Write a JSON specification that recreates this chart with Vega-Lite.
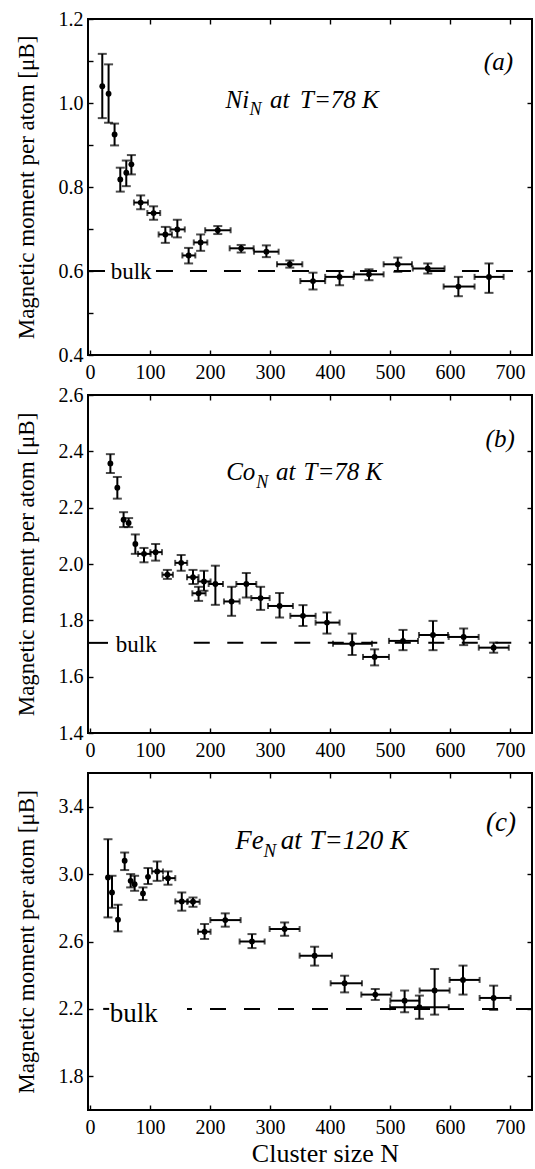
{
  "$schema": "https://vega.github.io/schema/vega-lite/v6.json",
  "background": "white",
  "padding": {"left": 14, "top": 8, "right": 4, "bottom": 2},
  "bounds": "flush",
  "spacing": 40,
  "config": {
    "font": "Liberation Serif, Times New Roman, serif",
    "text": {"font": "Liberation Serif, Times New Roman, serif"},
    "view": {"stroke": "black", "strokeWidth": 2},
    "axis": {
      "labelFont": "Liberation Serif, Times New Roman, serif", "labelFontSize": 20, "labelColor": "black",
      "titleFont": "Liberation Serif, Times New Roman, serif", "titleFontSize": 23, "titleFontWeight": "normal", "titleColor": "black",
      "domain": false, "grid": false, "tickColor": "black", "tickWidth": 1.4, "tickSize": -5,
      "labelFlush": false, "labelOverlap": false
    }
  },
  "datasets": {
    "ni": [
      {"N": 20.5, "m": 1.040, "lo": 0.964, "hi": 1.117, "nlo": null, "nhi": null},
      {"N": 31, "m": 1.022, "lo": 0.953, "hi": 1.092, "nlo": null, "nhi": null},
      {"N": 41, "m": 0.925, "lo": 0.899, "hi": 0.951, "nlo": null, "nhi": null},
      {"N": 50.5, "m": 0.818, "lo": 0.789, "hi": 0.846, "nlo": null, "nhi": null},
      {"N": 60.5, "m": 0.834, "lo": 0.802, "hi": 0.863, "nlo": null, "nhi": null},
      {"N": 69, "m": 0.854, "lo": 0.830, "hi": 0.876, "nlo": null, "nhi": null},
      {"N": 84.5, "m": 0.763, "lo": 0.747, "hi": 0.780, "nlo": 73.3, "nhi": 96.7},
      {"N": 106, "m": 0.738, "lo": 0.722, "hi": 0.754, "nlo": 95.6, "nhi": 117},
      {"N": 125.6, "m": 0.687, "lo": 0.667, "hi": 0.705, "nlo": 114.4, "nhi": 136.7},
      {"N": 145.6, "m": 0.699, "lo": 0.680, "hi": 0.722, "nlo": 134, "nhi": 158},
      {"N": 164.4, "m": 0.637, "lo": 0.618, "hi": 0.655, "nlo": 154, "nhi": 175.6},
      {"N": 184.4, "m": 0.668, "lo": 0.648, "hi": 0.687, "nlo": 173, "nhi": 195.6},
      {"N": 213, "m": 0.697, "lo": 0.688, "hi": 0.707, "nlo": 192, "nhi": 234.4},
      {"N": 252, "m": 0.654, "lo": 0.644, "hi": 0.662, "nlo": 232.8, "nhi": 272.8},
      {"N": 294, "m": 0.646, "lo": 0.633, "hi": 0.661, "nlo": 273.3, "nhi": 314.4},
      {"N": 333, "m": 0.616, "lo": 0.608, "hi": 0.625, "nlo": 311.7, "nhi": 353.9},
      {"N": 371.7, "m": 0.576, "lo": 0.556, "hi": 0.596, "nlo": 350.6, "nhi": 392},
      {"N": 416, "m": 0.586, "lo": 0.566, "hi": 0.600, "nlo": 392, "nhi": 439.4},
      {"N": 465, "m": 0.592, "lo": 0.578, "hi": 0.604, "nlo": 440, "nhi": 489.4},
      {"N": 513, "m": 0.616, "lo": 0.598, "hi": 0.632, "nlo": 489.4, "nhi": 536.7},
      {"N": 563, "m": 0.606, "lo": 0.594, "hi": 0.618, "nlo": 538, "nhi": 591},
      {"N": 614, "m": 0.563, "lo": 0.540, "hi": 0.586, "nlo": 589.4, "nhi": 641},
      {"N": 665, "m": 0.586, "lo": 0.548, "hi": 0.618, "nlo": 641, "nhi": 689.4}
    ],
    "co": [
      {"N": 34, "m": 2.357, "lo": 2.323, "hi": 2.390, "nlo": null, "nhi": null},
      {"N": 45.6, "m": 2.271, "lo": 2.232, "hi": 2.309, "nlo": null, "nhi": null},
      {"N": 56, "m": 2.157, "lo": 2.131, "hi": 2.184, "nlo": null, "nhi": null},
      {"N": 64.4, "m": 2.146, "lo": 2.131, "hi": 2.163, "nlo": null, "nhi": null},
      {"N": 75.6, "m": 2.071, "lo": 2.036, "hi": 2.105, "nlo": null, "nhi": null},
      {"N": 90, "m": 2.036, "lo": 2.006, "hi": 2.057, "nlo": 80, "nhi": 101},
      {"N": 109.4, "m": 2.042, "lo": 2.012, "hi": 2.071, "nlo": 100.6, "nhi": 120},
      {"N": 129, "m": 1.962, "lo": 1.947, "hi": 1.979, "nlo": 120.6, "nhi": 138.3},
      {"N": 152, "m": 2.004, "lo": 1.976, "hi": 2.032, "nlo": 142, "nhi": 162},
      {"N": 171.7, "m": 1.953, "lo": 1.929, "hi": 1.979, "nlo": 161.7, "nhi": 181},
      {"N": 181, "m": 1.896, "lo": 1.869, "hi": 1.919, "nlo": 170.6, "nhi": 192.8},
      {"N": 190, "m": 1.938, "lo": 1.905, "hi": 1.976, "nlo": 180, "nhi": 201},
      {"N": 209, "m": 1.929, "lo": 1.855, "hi": 1.994, "nlo": 197.8, "nhi": 221.7},
      {"N": 236, "m": 1.867, "lo": 1.816, "hi": 1.919, "nlo": 223.3, "nhi": 249.4},
      {"N": 260.6, "m": 1.929, "lo": 1.881, "hi": 1.968, "nlo": 243.9, "nhi": 277.2},
      {"N": 284.4, "m": 1.879, "lo": 1.837, "hi": 1.919, "nlo": 268.9, "nhi": 299.4},
      {"N": 316, "m": 1.851, "lo": 1.810, "hi": 1.897, "nlo": 296.7, "nhi": 338.3},
      {"N": 355, "m": 1.816, "lo": 1.780, "hi": 1.854, "nlo": 333.9, "nhi": 376.1},
      {"N": 395, "m": 1.792, "lo": 1.753, "hi": 1.828, "nlo": 376, "nhi": 416},
      {"N": 437, "m": 1.717, "lo": 1.677, "hi": 1.753, "nlo": 405, "nhi": 470},
      {"N": 474.4, "m": 1.670, "lo": 1.640, "hi": 1.697, "nlo": 455, "nhi": 498.3},
      {"N": 521.7, "m": 1.727, "lo": 1.694, "hi": 1.766, "nlo": 498.3, "nhi": 546.7},
      {"N": 571.7, "m": 1.748, "lo": 1.694, "hi": 1.798, "nlo": 548.3, "nhi": 596.7},
      {"N": 622.8, "m": 1.741, "lo": 1.712, "hi": 1.771, "nlo": 597.8, "nhi": 647.8},
      {"N": 672.8, "m": 1.703, "lo": 1.685, "hi": 1.721, "nlo": 648, "nhi": 698}
    ],
    "fe": [
      {"N": 30, "m": 2.980, "lo": 2.743, "hi": 3.207, "nlo": null, "nhi": null},
      {"N": 36.7, "m": 2.891, "lo": 2.800, "hi": 2.990, "nlo": null, "nhi": null},
      {"N": 46.7, "m": 2.729, "lo": 2.660, "hi": 2.818, "nlo": null, "nhi": null},
      {"N": 57.8, "m": 3.079, "lo": 3.024, "hi": 3.128, "nlo": null, "nhi": null},
      {"N": 67.8, "m": 2.960, "lo": 2.921, "hi": 3.000, "nlo": null, "nhi": null},
      {"N": 74.4, "m": 2.940, "lo": 2.901, "hi": 2.990, "nlo": null, "nhi": null},
      {"N": 88.3, "m": 2.885, "lo": 2.846, "hi": 2.921, "nlo": null, "nhi": null},
      {"N": 96.7, "m": 2.984, "lo": 2.941, "hi": 3.036, "nlo": null, "nhi": null},
      {"N": 112, "m": 3.016, "lo": 2.960, "hi": 3.075, "nlo": 103.3, "nhi": 121.7},
      {"N": 130, "m": 2.976, "lo": 2.937, "hi": 3.016, "nlo": 121.7, "nhi": 142.2},
      {"N": 153, "m": 2.838, "lo": 2.783, "hi": 2.891, "nlo": 142.2, "nhi": 163.3},
      {"N": 171.7, "m": 2.836, "lo": 2.806, "hi": 2.861, "nlo": 161.7, "nhi": 182.8},
      {"N": 191, "m": 2.658, "lo": 2.615, "hi": 2.704, "nlo": 180, "nhi": 201},
      {"N": 225.5, "m": 2.727, "lo": 2.688, "hi": 2.767, "nlo": 200.6, "nhi": 251.1},
      {"N": 270, "m": 2.600, "lo": 2.561, "hi": 2.644, "nlo": 249.4, "nhi": 291.1},
      {"N": 324.4, "m": 2.674, "lo": 2.634, "hi": 2.713, "nlo": 299.4, "nhi": 349.4},
      {"N": 374.4, "m": 2.516, "lo": 2.457, "hi": 2.569, "nlo": 349.4, "nhi": 403.3},
      {"N": 424.4, "m": 2.352, "lo": 2.298, "hi": 2.397, "nlo": 401.1, "nhi": 453.3},
      {"N": 475.5, "m": 2.285, "lo": 2.253, "hi": 2.318, "nlo": 452.2, "nhi": 502.2},
      {"N": 524.4, "m": 2.249, "lo": 2.180, "hi": 2.309, "nlo": 500.6, "nhi": 549.4},
      {"N": 549, "m": 2.210, "lo": 2.141, "hi": 2.279, "nlo": 500, "nhi": 598},
      {"N": 574.4, "m": 2.309, "lo": 2.166, "hi": 2.437, "nlo": 549.4, "nhi": 599.4},
      {"N": 621.7, "m": 2.372, "lo": 2.285, "hi": 2.457, "nlo": 599.4, "nhi": 649.4},
      {"N": 672.8, "m": 2.265, "lo": 2.194, "hi": 2.338, "nlo": 649.4, "nhi": 701.1}
    ]
  },
  "vconcat": [
    {
      "width": 444, "height": 336,
      "data": {"name": "ni"},
      "resolve": {"axis": {"x": "independent", "y": "independent"}},
      "layer": [
        {"mark": {"type": "rule", "color": "black", "strokeWidth": 2},
         "encoding": {
           "x": {"field": "N", "type": "quantitative", "scale": {"domain": [-3.3, 736.7], "nice": false, "zero": false},
                 "axis": {"orient": "bottom", "values": [0, 100, 200, 300, 400, 500, 600, 700], "title": null, "labelPadding": 12}},
           "y": {"field": "lo", "type": "quantitative", "scale": {"domain": [0.4, 1.2], "nice": false, "zero": false},
                 "axis": {"orient": "left", "values": [0.4, 0.5, 0.6, 0.7, 0.8, 0.9, 1.0, 1.1, 1.2],
                          "labelExpr": "round(datum.value*10) % 2 == 0 ? format(datum.value, '.1f') : ''",
                          "title": "Magnetic moment per atom [μB]", "titlePadding": 20, "labelPadding": 10}},
           "y2": {"field": "hi"}}},
        {"mark": {"type": "tick", "orient": "horizontal", "size": 9, "thickness": 2, "color": "black"},
         "encoding": {"x": {"field": "N", "type": "quantitative", "axis": null}, "y": {"field": "lo", "type": "quantitative", "axis": null}}},
        {"mark": {"type": "tick", "orient": "horizontal", "size": 9, "thickness": 2, "color": "black"},
         "encoding": {"x": {"field": "N", "type": "quantitative", "axis": null}, "y": {"field": "hi", "type": "quantitative", "axis": null}}},
        {"transform": [{"filter": "isValid(datum.nlo)"}],
         "mark": {"type": "rule", "color": "black", "strokeWidth": 2},
         "encoding": {"x": {"field": "nlo", "type": "quantitative", "axis": null}, "x2": {"field": "nhi"}, "y": {"field": "m", "type": "quantitative", "axis": null}}},
        {"transform": [{"filter": "isValid(datum.nlo)"}],
         "mark": {"type": "tick", "orient": "vertical", "size": 6, "thickness": 2, "color": "black"},
         "encoding": {"x": {"field": "nlo", "type": "quantitative", "axis": null}, "y": {"field": "m", "type": "quantitative", "axis": null}}},
        {"transform": [{"filter": "isValid(datum.nlo)"}],
         "mark": {"type": "tick", "orient": "vertical", "size": 6, "thickness": 2, "color": "black"},
         "encoding": {"x": {"field": "nhi", "type": "quantitative", "axis": null}, "y": {"field": "m", "type": "quantitative", "axis": null}}},
        {"mark": {"type": "point", "shape": "circle", "filled": true, "size": 34, "color": "black", "opacity": 1},
         "encoding": {
           "x": {"field": "N", "type": "quantitative", "axis": {"orient": "top", "values": [100, 200, 300, 400, 500, 600, 700], "labels": false, "title": null}},
           "y": {"field": "m", "type": "quantitative", "axis": {"orient": "right", "values": [0.6, 0.8, 1.0], "labels": false, "title": null}}}},
        {"data": {"values": [{}]}, "mark": {"type": "rule", "color": "black", "strokeWidth": 2},
         "encoding": {"x": {"datum": -3.3, "axis": null}, "x2": {"datum": 25}, "y": {"datum": 0.6, "axis": null}}},
        {"data": {"values": [{}]}, "mark": {"type": "rule", "color": "black", "strokeWidth": 2, "strokeDash": [17, 17]},
         "encoding": {"x": {"datum": 110, "axis": null}, "x2": {"datum": 736.7}, "y": {"datum": 0.6, "axis": null}}},
        {"data": {"values": [{}]}, "mark": {"type": "text", "text": "bulk", "fontSize": 23, "align": "left", "baseline": "alphabetic", "color": "black"},
         "encoding": {"x": {"datum": 34.5, "axis": null}, "y": {"datum": 0.582, "axis": null}}},
        {"data": {"values": [{}]}, "mark": {"type": "text", "text": "Ni", "fontSize": 25, "fontStyle": "italic", "align": "left", "baseline": "alphabetic", "color": "black"},
         "encoding": {"x": {"datum": 226, "axis": null}, "y": {"datum": 0.989, "axis": null}}},
        {"data": {"values": [{}]}, "mark": {"type": "text", "text": "N", "fontSize": 18, "fontStyle": "italic", "align": "left", "baseline": "alphabetic", "color": "black"},
         "encoding": {"x": {"datum": 266, "axis": null}, "y": {"datum": 0.972, "axis": null}}},
        {"data": {"values": [{}]}, "mark": {"type": "text", "text": "at", "fontSize": 25, "fontStyle": "italic", "align": "left", "baseline": "alphabetic", "color": "black"},
         "encoding": {"x": {"datum": 300, "axis": null}, "y": {"datum": 0.989, "axis": null}}},
        {"data": {"values": [{}]}, "mark": {"type": "text", "text": "T=78 K", "fontSize": 25, "fontStyle": "italic", "align": "left", "baseline": "alphabetic", "color": "black"},
         "encoding": {"x": {"datum": 350, "axis": null}, "y": {"datum": 0.989, "axis": null}}},
        {"data": {"values": [{}]}, "mark": {"type": "text", "text": "(a)", "fontSize": 25, "fontStyle": "italic", "align": "right", "baseline": "alphabetic", "color": "black"},
         "encoding": {"x": {"datum": 705, "axis": null}, "y": {"datum": 1.078, "axis": null}}}
      ]
    },
    {
      "width": 444, "height": 338,
      "data": {"name": "co"},
      "resolve": {"axis": {"x": "independent", "y": "independent"}},
      "layer": [
        {"mark": {"type": "rule", "color": "black", "strokeWidth": 2},
         "encoding": {
           "x": {"field": "N", "type": "quantitative", "scale": {"domain": [-3.3, 736.7], "nice": false, "zero": false},
                 "axis": {"orient": "bottom", "values": [0, 100, 200, 300, 400, 500, 600, 700], "title": null, "labelPadding": 12}},
           "y": {"field": "lo", "type": "quantitative", "scale": {"domain": [1.4, 2.6], "nice": false, "zero": false},
                 "axis": {"orient": "left", "values": [1.4, 1.6, 1.8, 2.0, 2.2, 2.4, 2.6], "format": ".1f",
                          "title": "Magnetic moment per atom [μB]", "titlePadding": 20, "labelPadding": 10}},
           "y2": {"field": "hi"}}},
        {"mark": {"type": "tick", "orient": "horizontal", "size": 9, "thickness": 2, "color": "black"},
         "encoding": {"x": {"field": "N", "type": "quantitative", "axis": null}, "y": {"field": "lo", "type": "quantitative", "axis": null}}},
        {"mark": {"type": "tick", "orient": "horizontal", "size": 9, "thickness": 2, "color": "black"},
         "encoding": {"x": {"field": "N", "type": "quantitative", "axis": null}, "y": {"field": "hi", "type": "quantitative", "axis": null}}},
        {"transform": [{"filter": "isValid(datum.nlo)"}],
         "mark": {"type": "rule", "color": "black", "strokeWidth": 2},
         "encoding": {"x": {"field": "nlo", "type": "quantitative", "axis": null}, "x2": {"field": "nhi"}, "y": {"field": "m", "type": "quantitative", "axis": null}}},
        {"transform": [{"filter": "isValid(datum.nlo)"}],
         "mark": {"type": "tick", "orient": "vertical", "size": 6, "thickness": 2, "color": "black"},
         "encoding": {"x": {"field": "nlo", "type": "quantitative", "axis": null}, "y": {"field": "m", "type": "quantitative", "axis": null}}},
        {"transform": [{"filter": "isValid(datum.nlo)"}],
         "mark": {"type": "tick", "orient": "vertical", "size": 6, "thickness": 2, "color": "black"},
         "encoding": {"x": {"field": "nhi", "type": "quantitative", "axis": null}, "y": {"field": "m", "type": "quantitative", "axis": null}}},
        {"mark": {"type": "point", "shape": "circle", "filled": true, "size": 34, "color": "black", "opacity": 1},
         "encoding": {
           "x": {"field": "N", "type": "quantitative", "axis": {"orient": "top", "values": [100, 200, 300, 400, 500, 600, 700], "labels": false, "title": null}},
           "y": {"field": "m", "type": "quantitative", "axis": {"orient": "right", "values": [1.6, 1.8, 2.0, 2.2, 2.4], "labels": false, "title": null}}}},
        {"data": {"values": [{}]}, "mark": {"type": "rule", "color": "black", "strokeWidth": 2},
         "encoding": {"x": {"datum": -3.3, "axis": null}, "x2": {"datum": 30}, "y": {"datum": 1.72, "axis": null}}},
        {"data": {"values": [{}]}, "mark": {"type": "rule", "color": "black", "strokeWidth": 2, "strokeDash": [16, 17.5]},
         "encoding": {"x": {"datum": 173, "axis": null}, "x2": {"datum": 736.7}, "y": {"datum": 1.72, "axis": null}}},
        {"data": {"values": [{}]}, "mark": {"type": "text", "text": "bulk", "fontSize": 23, "align": "left", "baseline": "alphabetic", "color": "black"},
         "encoding": {"x": {"datum": 43, "axis": null}, "y": {"datum": 1.686, "axis": null}}},
        {"data": {"values": [{}]}, "mark": {"type": "text", "text": "Co", "fontSize": 25, "fontStyle": "italic", "align": "left", "baseline": "alphabetic", "color": "black"},
         "encoding": {"x": {"datum": 227, "axis": null}, "y": {"datum": 2.297, "axis": null}}},
        {"data": {"values": [{}]}, "mark": {"type": "text", "text": "N", "fontSize": 18, "fontStyle": "italic", "align": "left", "baseline": "alphabetic", "color": "black"},
         "encoding": {"x": {"datum": 277, "axis": null}, "y": {"datum": 2.27, "axis": null}}},
        {"data": {"values": [{}]}, "mark": {"type": "text", "text": "at", "fontSize": 25, "fontStyle": "italic", "align": "left", "baseline": "alphabetic", "color": "black"},
         "encoding": {"x": {"datum": 310, "axis": null}, "y": {"datum": 2.297, "axis": null}}},
        {"data": {"values": [{}]}, "mark": {"type": "text", "text": "T=78 K", "fontSize": 25, "fontStyle": "italic", "align": "left", "baseline": "alphabetic", "color": "black"},
         "encoding": {"x": {"datum": 356, "axis": null}, "y": {"datum": 2.297, "axis": null}}},
        {"data": {"values": [{}]}, "mark": {"type": "text", "text": "(b)", "fontSize": 25, "fontStyle": "italic", "align": "right", "baseline": "alphabetic", "color": "black"},
         "encoding": {"x": {"datum": 708, "axis": null}, "y": {"datum": 2.417, "axis": null}}}
      ]
    },
    {
      "width": 444, "height": 337,
      "data": {"name": "fe"},
      "resolve": {"axis": {"x": "independent", "y": "independent"}},
      "layer": [
        {"mark": {"type": "rule", "color": "black", "strokeWidth": 2},
         "encoding": {
           "x": {"field": "N", "type": "quantitative", "scale": {"domain": [-3.3, 736.7], "nice": false, "zero": false},
                 "axis": {"orient": "bottom", "values": [0, 100, 200, 300, 400, 500, 600, 700], "title": "Cluster size N", "titleFontSize": 26, "titlePadding": 3, "titleX": 237, "labelPadding": 12}},
           "y": {"field": "lo", "type": "quantitative", "scale": {"domain": [1.6, 3.6], "nice": false, "zero": false},
                 "axis": {"orient": "left", "values": [1.8, 2.2, 2.6, 3.0, 3.4], "format": ".1f",
                          "title": "Magnetic moment per atom [μB]", "titlePadding": 20, "labelPadding": 10}},
           "y2": {"field": "hi"}}},
        {"mark": {"type": "tick", "orient": "horizontal", "size": 9, "thickness": 2, "color": "black"},
         "encoding": {"x": {"field": "N", "type": "quantitative", "axis": null}, "y": {"field": "lo", "type": "quantitative", "axis": null}}},
        {"mark": {"type": "tick", "orient": "horizontal", "size": 9, "thickness": 2, "color": "black"},
         "encoding": {"x": {"field": "N", "type": "quantitative", "axis": null}, "y": {"field": "hi", "type": "quantitative", "axis": null}}},
        {"transform": [{"filter": "isValid(datum.nlo)"}],
         "mark": {"type": "rule", "color": "black", "strokeWidth": 2},
         "encoding": {"x": {"field": "nlo", "type": "quantitative", "axis": null}, "x2": {"field": "nhi"}, "y": {"field": "m", "type": "quantitative", "axis": null}}},
        {"transform": [{"filter": "isValid(datum.nlo)"}],
         "mark": {"type": "tick", "orient": "vertical", "size": 6, "thickness": 2, "color": "black"},
         "encoding": {"x": {"field": "nlo", "type": "quantitative", "axis": null}, "y": {"field": "m", "type": "quantitative", "axis": null}}},
        {"transform": [{"filter": "isValid(datum.nlo)"}],
         "mark": {"type": "tick", "orient": "vertical", "size": 6, "thickness": 2, "color": "black"},
         "encoding": {"x": {"field": "nhi", "type": "quantitative", "axis": null}, "y": {"field": "m", "type": "quantitative", "axis": null}}},
        {"mark": {"type": "point", "shape": "circle", "filled": true, "size": 34, "color": "black", "opacity": 1},
         "encoding": {
           "x": {"field": "N", "type": "quantitative", "axis": {"orient": "top", "values": [100, 200, 300, 400, 500, 600, 700], "labels": false, "title": null}},
           "y": {"field": "m", "type": "quantitative", "axis": {"orient": "right", "values": [1.8, 2.2, 2.6, 3.0, 3.4], "labels": false, "title": null}}}},
        {"data": {"values": [{}]}, "mark": {"type": "rule", "color": "black", "strokeWidth": 2},
         "encoding": {"x": {"datum": 22, "axis": null}, "x2": {"datum": 32}, "y": {"datum": 2.2, "axis": null}}},
        {"data": {"values": [{}]}, "mark": {"type": "rule", "color": "black", "strokeWidth": 2, "strokeDash": [16, 18], "strokeDashOffset": 11},
         "encoding": {"x": {"datum": 161.7, "axis": null}, "x2": {"datum": 736.7}, "y": {"datum": 2.2, "axis": null}}},
        {"data": {"values": [{}]}, "mark": {"type": "text", "text": "bulk", "fontSize": 27, "align": "left", "baseline": "alphabetic", "color": "black"},
         "encoding": {"x": {"datum": 33, "axis": null}, "y": {"datum": 2.121, "axis": null}}},
        {"data": {"values": [{}]}, "mark": {"type": "text", "text": "Fe", "fontSize": 27, "fontStyle": "italic", "align": "left", "baseline": "alphabetic", "color": "black"},
         "encoding": {"x": {"datum": 242, "axis": null}, "y": {"datum": 3.148, "axis": null}}},
        {"data": {"values": [{}]}, "mark": {"type": "text", "text": "N", "fontSize": 19, "fontStyle": "italic", "align": "left", "baseline": "alphabetic", "color": "black"},
         "encoding": {"x": {"datum": 289, "axis": null}, "y": {"datum": 3.10, "axis": null}}},
        {"data": {"values": [{}]}, "mark": {"type": "text", "text": "at", "fontSize": 27, "fontStyle": "italic", "align": "left", "baseline": "alphabetic", "color": "black"},
         "encoding": {"x": {"datum": 318, "axis": null}, "y": {"datum": 3.148, "axis": null}}},
        {"data": {"values": [{}]}, "mark": {"type": "text", "text": "T=120 K", "fontSize": 27, "fontStyle": "italic", "align": "left", "baseline": "alphabetic", "color": "black"},
         "encoding": {"x": {"datum": 366, "axis": null}, "y": {"datum": 3.148, "axis": null}}},
        {"data": {"values": [{}]}, "mark": {"type": "text", "text": "(c)", "fontSize": 27, "fontStyle": "italic", "align": "right", "baseline": "alphabetic", "color": "black"},
         "encoding": {"x": {"datum": 710, "axis": null}, "y": {"datum": 3.257, "axis": null}}}
      ]
    }
  ]
}
